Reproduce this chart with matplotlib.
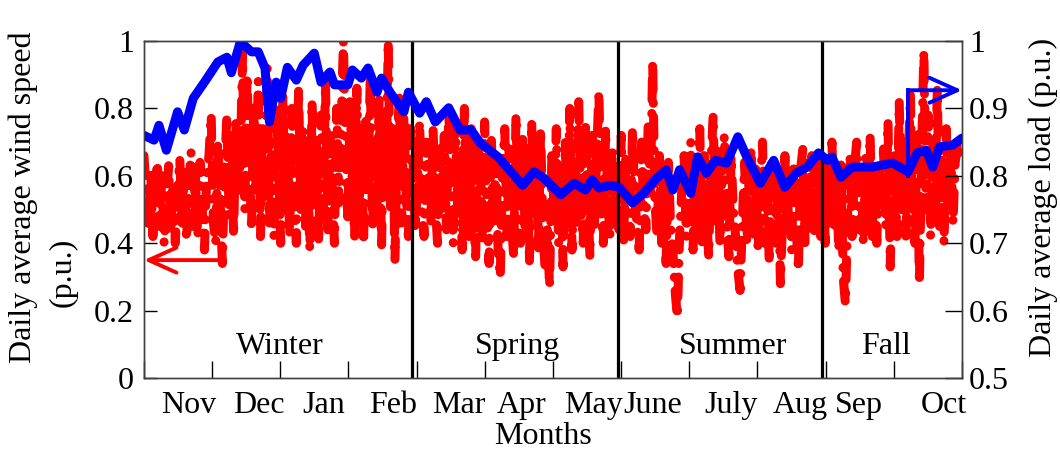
import numpy as np
import matplotlib
matplotlib.use("Agg")
import matplotlib.pyplot as plt
from matplotlib.transforms import blended_transform_factory

plt.rcParams["font.family"] = ["Liberation Serif", "DejaVu Serif"]
plt.rcParams["font.size"] = 23

# daily average wind speed (p.u.), one value per day, starting in late Oct
wind = [
    0.66, 0.55, 0.44, 0.62, 0.42, 0.58, 0.64, 0.45, 0.60, 0.40, 0.52, 0.63, 0.43, 0.58, 0.40,
    0.55, 0.65, 0.46, 0.61, 0.41, 0.56, 0.67, 0.45, 0.60, 0.42, 0.64, 0.50, 0.38, 0.60, 0.66,
    0.78, 0.46, 0.40, 0.70, 0.52, 0.34, 0.62, 0.78, 0.48, 0.72, 0.42, 0.76, 0.55, 0.64, 0.96,
    0.50, 0.90, 0.64, 0.44, 0.82, 0.56, 0.88, 0.42, 0.74, 0.52, 0.92, 0.46, 0.70, 0.42, 0.80,
    0.66, 0.40, 0.84, 0.50, 0.72, 0.42, 0.80, 0.56, 0.40, 0.86, 0.50, 0.74, 0.44, 0.68, 0.38,
    0.82, 0.52, 0.70, 0.40, 0.78, 0.50, 0.88, 0.44, 0.72, 0.56, 0.40, 0.80, 0.52, 0.74, 1.00,
    0.68, 0.46, 0.82, 0.56, 0.42, 0.86, 0.50, 0.74, 0.40, 0.78, 0.56, 0.90, 0.44, 0.72, 0.52,
    0.84, 0.38, 0.76, 0.58, 1.00, 0.50, 0.74, 0.35, 0.70, 0.84, 0.46, 0.78, 0.54, 0.42, 0.74,
    0.66, 0.44, 0.56, 0.76, 0.50, 0.42, 0.70, 0.56, 0.46, 0.74, 0.52, 0.40, 0.68, 0.50, 0.72,
    0.44, 0.80, 0.56, 0.40, 0.76, 0.50, 0.66, 0.38, 0.80, 0.54, 0.42, 0.74, 0.48, 0.36, 0.70,
    0.64, 0.40, 0.76, 0.50, 0.34, 0.72, 0.45, 0.66, 0.38, 0.30, 0.62, 0.74, 0.42, 0.68, 0.46,
    0.36, 0.78, 0.50, 0.40, 0.72, 0.45, 0.64, 0.34, 0.76, 0.50, 0.66, 0.38, 0.74, 0.45, 0.32,
    0.44, 0.27, 0.66, 0.50, 0.74, 0.40, 0.62, 0.33, 0.70, 0.45, 0.80, 0.38, 0.64, 0.46, 0.82,
    0.50, 0.40, 0.76, 0.55, 0.36, 0.72, 0.45, 0.66, 0.85, 0.50, 0.40, 0.74, 0.52, 0.42, 0.68,
    0.50, 0.64, 0.44, 0.72, 0.40, 0.66, 0.50, 0.42, 0.74, 0.52, 0.46, 0.38, 0.70, 0.50, 0.44,
    0.76, 0.55, 0.94, 0.52, 0.42, 0.66, 0.40, 0.58, 0.34, 0.64, 0.45, 0.38, 0.26, 0.18, 0.42,
    0.56, 0.66, 0.42, 0.60, 0.70, 0.38, 0.62, 0.45, 0.74, 0.40, 0.66, 0.50, 0.36, 0.64, 0.78,
    0.45, 0.68, 0.40, 0.62, 0.72, 0.46, 0.36, 0.66, 0.50, 0.42, 0.32, 0.26, 0.46, 0.64, 0.40,
    0.60, 0.68, 0.42, 0.62, 0.38, 0.56, 0.70, 0.40, 0.60, 0.34, 0.64, 0.45, 0.40, 0.62, 0.28,
    0.48, 0.66, 0.42, 0.60, 0.38, 0.64, 0.45, 0.32, 0.62, 0.68, 0.40, 0.58, 0.45, 0.66, 0.42,
    0.58, 0.66, 0.42, 0.62, 0.40, 0.64, 0.46, 0.70, 0.44, 0.60, 0.38, 0.64, 0.30, 0.22, 0.48,
    0.66, 0.42, 0.62, 0.70, 0.44, 0.60, 0.40, 0.66, 0.46, 0.72, 0.42, 0.62, 0.40, 0.64, 0.50,
    0.68, 0.45, 0.76, 0.33, 0.62, 0.66, 0.42, 0.82, 0.50, 0.72, 0.42, 0.64, 0.84, 0.46, 0.40,
    0.74, 0.28, 0.66, 0.97, 0.50, 0.78, 0.42, 0.70, 0.52, 0.86, 0.45, 0.66, 0.40, 0.74, 0.50,
    0.68, 0.46, 0.64, 0.70, 0.66,
]
wind_days = np.arange(len(wind))

# daily average load (p.u.)
load_days = [0, 4.5, 6.7, 10, 15, 18, 22, 27, 33, 37, 39, 43, 48, 51, 54, 56, 59, 61, 64,
             68, 71, 76, 79, 83, 85, 91, 93, 97, 100, 104, 106, 110, 116, 118, 123, 126, 130,
             136, 141, 146, 150, 158, 163, 169, 174, 178, 186, 192, 197, 200, 203, 208, 212,
             218, 223, 228, 233, 236, 239, 244, 247, 251, 255, 260, 265, 269, 275, 281, 286,
             291, 296, 301, 305, 307, 311, 316, 325, 334, 341, 345, 349, 352, 355, 361, 365]
load = [0.860, 0.853, 0.875, 0.838, 0.895, 0.868, 0.915, 0.939, 0.969, 0.976, 0.953, 0.999,
        0.984, 0.984, 0.960, 0.880, 0.939, 0.915, 0.961, 0.942, 0.964, 0.982, 0.939, 0.954,
        0.935, 0.935, 0.957, 0.945, 0.960, 0.924, 0.945, 0.923, 0.895, 0.924, 0.893, 0.910,
        0.880, 0.901, 0.868, 0.868, 0.849, 0.828, 0.809, 0.786, 0.806, 0.798, 0.772, 0.789,
        0.779, 0.794, 0.782, 0.786, 0.783, 0.760, 0.774, 0.794, 0.809, 0.779, 0.809, 0.774,
        0.828, 0.804, 0.823, 0.819, 0.858, 0.828, 0.789, 0.823, 0.783, 0.804, 0.813, 0.834,
        0.823, 0.828, 0.798, 0.813, 0.813, 0.819, 0.806, 0.834, 0.838, 0.813, 0.843, 0.846,
        0.856]

months = ["Nov", "Dec", "Jan", "Feb", "Mar", "Apr", "May", "June", "July", "Aug", "Sep", "Oct"]
month_label_days = [20, 51.5, 80, 111, 140.5, 168.5, 200.5, 227, 262, 293, 319, 357]
seasons = ["Winter", "Spring", "Summer", "Fall"]
season_label_days = [60.5, 166.5, 263, 331]
season_bounds = [119.6, 211.5, 302.5]

fig = plt.figure(figsize=(10.6, 4.49), dpi=100)
ax = fig.add_axes([0.1358, 0.158, 0.7717, 0.7506])
ax2 = ax.twinx()

ax.plot(wind_days, wind, color="red", lw=6.5, linestyle=(0, (2.2, 1.5, 0.02, 1.5)),
        dash_capstyle="round", solid_capstyle="round")
for d in season_bounds:
    ax.axvline(d, color="black", lw=2.3)

ax2.plot(load_days, load, color="blue", lw=6.5, solid_capstyle="round", solid_joinstyle="round")

ax.set_xlim(0, 365)
ax.set_ylim(0, 1)
ax2.set_ylim(0.5, 1)

spine_col = "#404040"
for a in (ax, ax2):
    for s in a.spines.values():
        s.set_color(spine_col)
        s.set_linewidth(1)

ax.set_yticks([0, 0.2, 0.4, 0.6, 0.8, 1])
ax.set_yticklabels(["0", "0.2", "0.4", "0.6", "0.8", "1"])
ax2.set_yticks([0.5, 0.6, 0.7, 0.8, 0.9, 1])
ax2.set_yticklabels(["0.5", "0.6", "0.7", "0.8", "0.9", "1"])
ax.tick_params(axis="y", direction="in", length=9, width=1, pad=7, color="black")
ax2.tick_params(axis="y", direction="in", length=12, width=1, pad=5, color="black")

# month boundaries as x ticks, month names as text between them
ax.set_xticks(np.arange(13) * 365 / 12)
ax.set_xticklabels([])
ax.tick_params(axis="x", direction="in", length=12, width=1, color="black")

xt = blended_transform_factory(ax.transData, ax.transAxes)
for d, m in zip(month_label_days, months):
    ax.text(d, -0.104, m, transform=xt, ha="center", va="baseline")
ax.text(0.488, -0.195, "Months", transform=ax.transAxes, ha="center", va="baseline")

for d, s in zip(season_label_days, seasons):
    ax.text(d, 0.095, s, ha="center", va="center")

fig.text(23 / 1060, 1 - 197 / 449, "Daily average wind speed", rotation=90,
         ha="center", va="center")
fig.text(63 / 1060, 1 - 272 / 449, "(p.u.)", rotation=90, ha="center", va="center")
fig.text(1043 / 1060, 1 - 197 / 449, "Daily average load (p.u.)", rotation=90,
         ha="center", va="center")

# arrows pointing to the axis each curve belongs to
head = "->,head_length=1.0,head_width=0.45"
ax.annotate("", xy=(0, 0.35), xytext=(35, 0.35),
            arrowprops=dict(arrowstyle=head, color="red", lw=2.8, mutation_scale=20,
                            shrinkA=0, shrinkB=0))
ax2.plot([341, 341], [0.80, 0.927], color="blue", lw=2.8)
ax2.annotate("", xy=(365, 0.927), xytext=(341, 0.927),
             arrowprops=dict(arrowstyle=head, color="blue", lw=2.8, mutation_scale=20,
                             shrinkA=0, shrinkB=0))

fig.savefig("out.png", dpi=100)
